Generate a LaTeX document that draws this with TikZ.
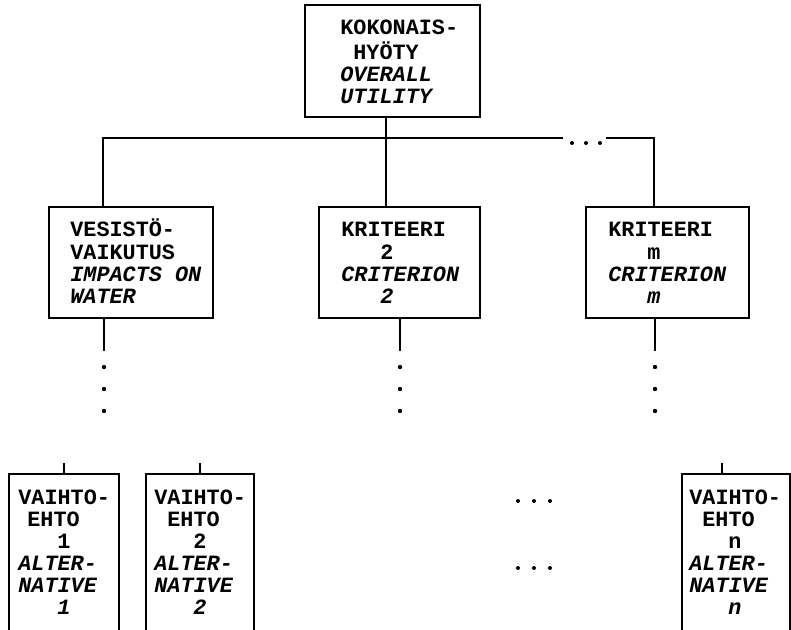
\documentclass[tikz,border=0pt]{standalone}
\usepackage{fontspec}
\newfontfamily\cour{Liberation Mono}
\newlength{\upx}\setlength{\upx}{0.5pt}
\newcommand{\ind}[1]{\hspace*{#1\upx}}
\newcommand{\ml}[1]{\begin{tabular}[t]{@{}l@{}}#1\end{tabular}}
\begin{document}
\begin{tikzpicture}[x=0.5pt,y=-0.5pt,
  box/.style={draw, line width=1pt, rectangle, inner sep=0pt},
  txt/.style={anchor=base west, inner sep=0pt, font=\cour\bfseries\fontsize{10.9}{11.05}\selectfont},
  conn/.style={line width=1pt},
  dot/.style={fill=black, draw=none}]
\useasboundingbox (0,0) rectangle (791,630);
\clip (0,0) rectangle (791,630);
\fill[white] (0,0) rectangle (791,630);

% boxes
\node[box, minimum width=87.5pt, minimum height=56pt] (top) at (392.5,61) {};
\node[box, minimum width=82pt, minimum height=55.5pt] (left) at (131,262.5) {};
\node[box, minimum width=80.5pt, minimum height=55.5pt] (mid) at (399.5,262.5) {};
\node[box, minimum width=81.5pt, minimum height=55.5pt] (right) at (667.5,262.5) {};
\node[box, minimum width=55pt, minimum height=83pt] (alt1) at (64,557) {};
\node[box, minimum width=54pt, minimum height=83pt] (alt2) at (200,557) {};
\node[box, minimum width=54pt, minimum height=83pt] (altn) at (736,557) {};

% texts
\node[txt] (ttop) at (340,35) {\ml{KOKONAIS-\\\ind{13}HYÖTY\\\itshape OVERALL\\\itshape UTILITY}};
\node[txt] (tleft) at (70,237) {\ml{VESISTÖ-\\VAIKUTUS\\\itshape IMPACTS ON\\\itshape WATER}};
\node[txt] (tmid) at (341,237) {\ml{KRITEERI\\\ind{39}2\\\itshape CRITERION\\\itshape\ind{39}2}};
\node[txt] (tright) at (608,237) {\ml{KRITEERI\\\ind{39}m\\\itshape CRITERION\\\itshape\ind{39}m}};
\node[txt] (talt1) at (18,504) {\ml{VAIHTO-\\\ind{9}EHTO\\\ind{39}1\\\itshape ALTER-\\\itshape NATIVE\\\itshape\ind{39}1}};
\node[txt] (talt2) at (154,504) {\ml{VAIHTO-\\\ind{13}EHTO\\\ind{39}2\\\itshape ALTER-\\\itshape NATIVE\\\itshape\ind{39}2}};
\node[txt] (taltn) at (689,504) {\ml{VAIHTO-\\\ind{13}EHTO\\\ind{39}n\\\itshape ALTER-\\\itshape NATIVE\\\itshape\ind{39}n}};

% junction coordinates
\coordinate (hL) at (103,138);
\coordinate (hM) at (386,138);
\coordinate (hR) at (654,138);
\coordinate (gL) at (563,138);
\coordinate (gR) at (606,138);
\coordinate (dL) at (104,351);
\coordinate (dM) at (400,351);
\coordinate (dR) at (655,351);
\coordinate (k1) at (64,463);
\coordinate (k2) at (200,463);
\coordinate (kn) at (722,463);

% connectors
\draw[conn] (top.south -| hM) -- (hM);
\draw[conn] (left.north -| hL) -- (hL) -- (gL);
\draw[conn] (gR) -- (hR) -- (right.north -| hR);
\draw[conn] (hM) -- (mid.north -| hM);
\draw[conn] (left.south -| dL) -- (dL);
\draw[conn] (mid.south -| dM) -- (dM);
\draw[conn] (right.south -| dR) -- (dR);
\draw[conn] (k1) -- (alt1.north -| k1);
\draw[conn] (k2) -- (alt2.north -| k2);
\draw[conn] (kn) -- (altn.north -| kn);

% ellipsis dots
\foreach \x in {572,586,600} \fill[dot] (\x,143) circle (1pt);
\foreach \x in {104,400,655} \foreach \y in {367,389,411} \fill[dot] (\x,\y) circle (1.1pt);
\foreach \x in {518,534,550} \foreach \y in {501,568} \fill[dot] (\x,\y) circle (1pt);
\end{tikzpicture}
\end{document}
